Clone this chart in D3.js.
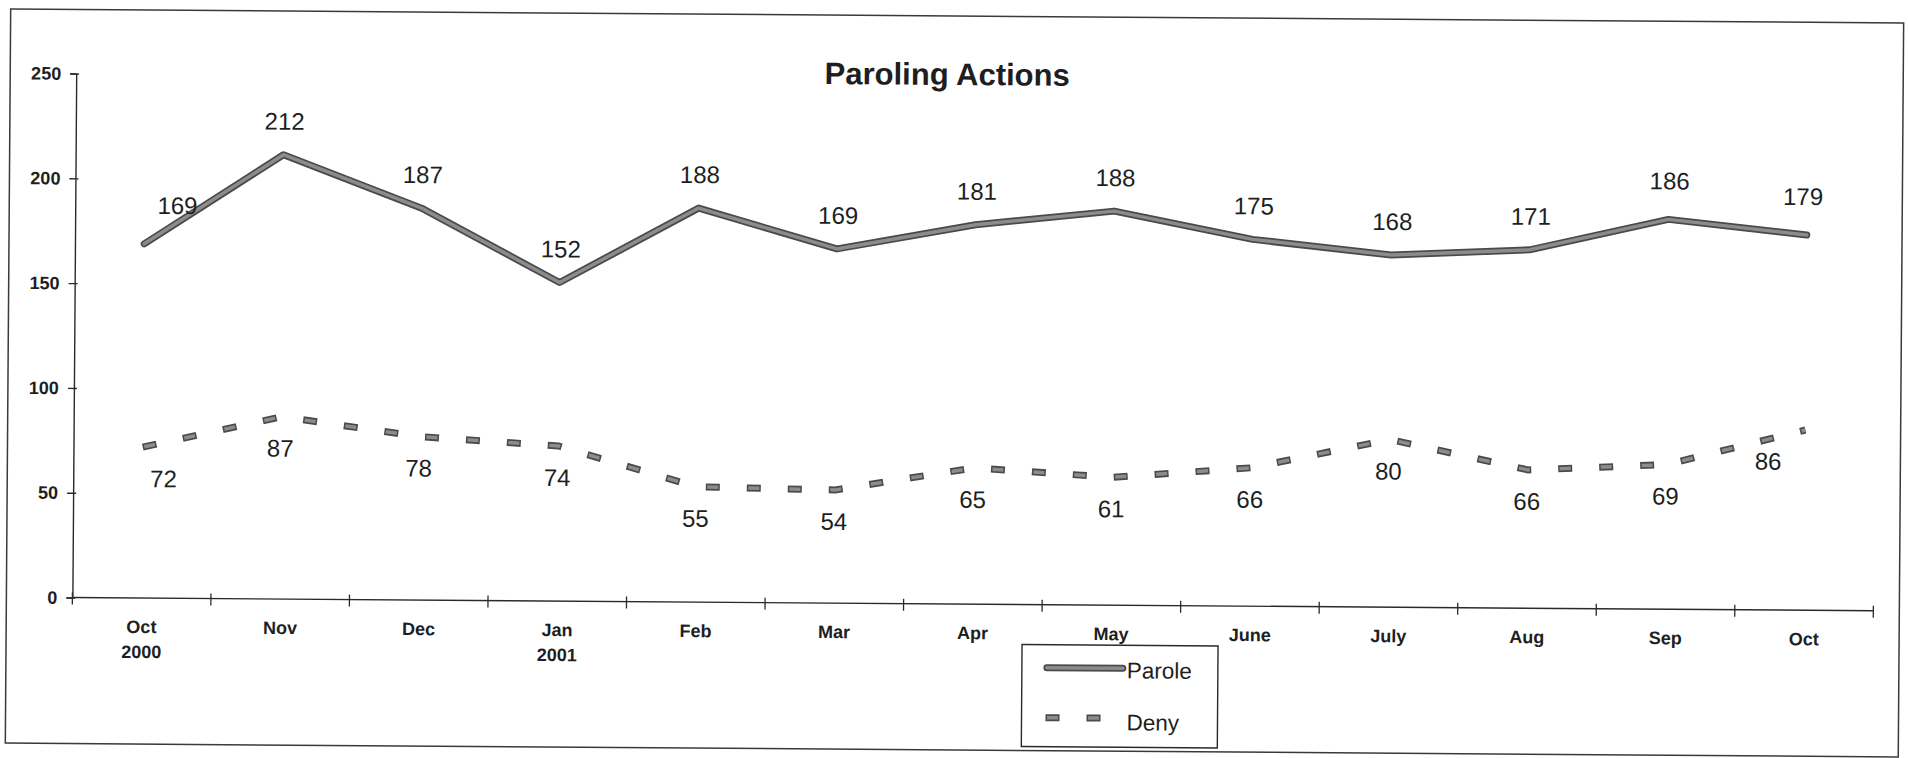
<!DOCTYPE html>
<html>
<head>
<meta charset="utf-8">
<script src="https://cdn.jsdelivr.net/npm/d3@7/dist/d3.min.js"></script>
<style>
  html, body { margin: 0; padding: 0; background: #fff; }
  svg { display: block; }
  text { font-family: "Liberation Sans", Arial, sans-serif; fill: #1e1e1e; }
</style>
</head>
<body>
<svg id="chart" width="1908" height="758"></svg>
<script>
// ---- data ----
const months = ["Oct", "Nov", "Dec", "Jan", "Feb", "Mar", "Apr", "May", "June", "July", "Aug", "Sep", "Oct"];
const subLabels = ["2000", "", "", "2001", "", "", "", "", "", "", "", "", ""];
const parole = [169, 212, 187, 152, 188, 169, 181, 188, 175, 168, 171, 186, 179];
const deny = [72, 87, 78, 74, 55, 54, 65, 61, 66, 80, 66, 69, 86];
const yTicks = [0, 50, 100, 150, 200, 250];
const seriesNames = ["Parole", "Deny"];
const titleText = "Paroling Actions";

// ---- layout ----
const W = 1908, H = 758;
const plot = { left: 74, right: 1875, top: 80, bottom: 604 };
const svg = d3.select("#chart");
const g = svg.append("g").attr("transform", `rotate(0.42, ${W / 2}, ${H / 2})`);

const edge = "#4a4a4a", core = "#8c8c8c";

// frame
g.append("rect").attr("x", 8).attr("y", 16).attr("width", 1893).attr("height", 734)
  .attr("fill", "none").attr("stroke", "#3a3a3a").attr("stroke-width", 1.5);

const idx = months.map((d, i) => i);
const x = d3.scaleBand().domain(idx).range([plot.left, plot.right]);
const cx = i => x(i) + x.bandwidth() / 2;
const y = d3.scaleLinear().domain([0, 250]).range([plot.bottom, plot.top]);

// title
g.append("text").attr("x", 945).attr("y", 85).attr("text-anchor", "middle")
  .style("font-size", "31px").style("font-weight", "bold").attr("fill", "#2a2a2a")
  .text(titleText);

// y axis
const yAxis = d3.axisLeft(y).tickValues(yTicks).tickSize(6).tickPadding(9);
const ya = g.append("g").attr("transform", `translate(${plot.left},0)`).call(yAxis);
ya.select(".domain").attr("stroke", "#2a2a2a").attr("stroke-width", 1.4);
ya.selectAll(".tick line").attr("stroke", "#2a2a2a").attr("stroke-width", 1.4).attr("x2", -6).attr("x1", 3);
ya.selectAll(".tick text").style("font-size", "18px").style("font-weight", "bold")
  .style("font-family", "Liberation Sans, Arial, sans-serif").attr("fill", "#2a2a2a");

// x axis (ticks between categories)
g.append("line").attr("x1", plot.left).attr("x2", plot.right).attr("y1", plot.bottom).attr("y2", plot.bottom)
  .attr("stroke", "#2a2a2a").attr("stroke-width", 1.4);
const boundaries = idx.map(i => x(i)).concat([plot.right]);
g.selectAll(".xtick").data(boundaries).enter().append("line")
  .attr("x1", d => d).attr("x2", d => d).attr("y1", plot.bottom - 5).attr("y2", plot.bottom + 7)
  .attr("stroke", "#2a2a2a").attr("stroke-width", 1.3);
const xl = g.selectAll(".xlab").data(idx).enter().append("text")
  .attr("text-anchor", "middle").style("font-size", "18px").style("font-weight", "bold").attr("fill", "#2a2a2a");
xl.append("tspan").attr("x", cx).attr("y", plot.bottom + 35).text(i => months[i]);
xl.filter(i => subLabels[i]).append("tspan").attr("x", cx).attr("y", plot.bottom + 60).text(i => subLabels[i]);

// lines
const line = d3.line().x((d, i) => cx(i)).y(d => y(d));
g.append("path").datum(parole).attr("d", line).attr("fill", "none")
  .attr("stroke", edge).attr("stroke-width", 7).attr("stroke-linejoin", "round").attr("stroke-linecap", "round");
g.append("path").datum(parole).attr("d", line).attr("fill", "none")
  .attr("stroke", core).attr("stroke-width", 3.5).attr("stroke-linejoin", "round").attr("stroke-linecap", "round");
g.append("path").datum(deny).attr("d", line).attr("fill", "none")
  .attr("stroke", edge).attr("stroke-width", 7).attr("stroke-dasharray", "14,27");
g.append("path").datum(deny).attr("d", line).attr("fill", "none")
  .attr("stroke", core).attr("stroke-width", 3.5).attr("stroke-dasharray", "0,1.5,11,28.5");

// data labels (first/last nudged as in the original)
const pNudge = i => (i === 0 ? 33 : i === parole.length - 1 ? -4 : 1);
const dNudge = i => (i === 0 ? 21 : i === deny.length - 1 ? -37 : -1);
g.selectAll(".plab").data(parole).enter().append("text")
  .attr("x", (d, i) => cx(i) + pNudge(i)).attr("y", (d, i) => y(d) - (i === 0 || i >= 11 ? 30 : 25))
  .attr("text-anchor", "middle").style("font-size", "24px").text(d => d);
g.selectAll(".dlab").data(deny).enter().append("text")
  .attr("x", (d, i) => cx(i) + dNudge(i)).attr("y", (d, i) => y(d) + 40)
  .attr("text-anchor", "middle").style("font-size", "24px").text(d => d);

// legend
const lg = g.append("g");
lg.append("rect").attr("x", 1024).attr("y", 644).attr("width", 196).attr("height", 102)
  .attr("fill", "#fff").attr("stroke", "#2a2a2a").attr("stroke-width", 1.4);
lg.append("line").attr("x1", 1049).attr("x2", 1125).attr("y1", 667).attr("y2", 667)
  .attr("stroke", edge).attr("stroke-width", 7).attr("stroke-linecap", "round");
lg.append("line").attr("x1", 1049).attr("x2", 1125).attr("y1", 667).attr("y2", 667)
  .attr("stroke", core).attr("stroke-width", 3.5).attr("stroke-linecap", "round");
lg.append("line").attr("x1", 1048).attr("x2", 1104).attr("y1", 717).attr("y2", 717)
  .attr("stroke", edge).attr("stroke-width", 7).attr("stroke-dasharray", "14,27");
lg.append("line").attr("x1", 1048).attr("x2", 1104).attr("y1", 717).attr("y2", 717)
  .attr("stroke", core).attr("stroke-width", 3.5).attr("stroke-dasharray", "0,1.5,11,28.5");
lg.append("text").attr("x", 1129).attr("y", 677).style("font-size", "22.5px").text(seriesNames[0]);
lg.append("text").attr("x", 1129).attr("y", 729).style("font-size", "22.5px").text(seriesNames[1]);
</script>
</body>
</html>
